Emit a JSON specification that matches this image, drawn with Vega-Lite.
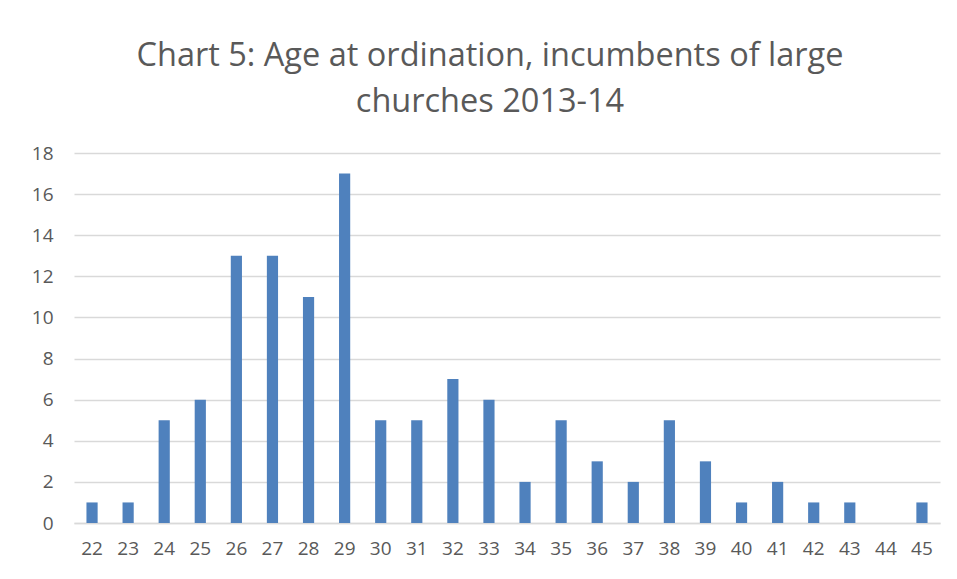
{
  "$schema": "https://vega.github.io/schema/vega-lite/v6.json",
  "width": 866,
  "height": 370,
  "autosize": {"type": "none"},
  "padding": {"left": 74, "top": 153, "right": 17, "bottom": 56},
  "background": "white",
  "title": {
    "text": ["Chart 5: Age at ordination, incumbents of large", "churches 2013-14"],
    "font": "Open Sans",
    "fontSize": 32.5,
    "fontWeight": "normal",
    "color": "#595959",
    "lineHeight": 46,
    "anchor": "middle",
    "dx": -17,
    "offset": 26
  },
  "data": {
    "values": [
      {"age": "22", "count": 1}, {"age": "23", "count": 1}, {"age": "24", "count": 5},
      {"age": "25", "count": 6}, {"age": "26", "count": 13}, {"age": "27", "count": 13},
      {"age": "28", "count": 11}, {"age": "29", "count": 17}, {"age": "30", "count": 5},
      {"age": "31", "count": 5}, {"age": "32", "count": 7}, {"age": "33", "count": 6},
      {"age": "34", "count": 2}, {"age": "35", "count": 5}, {"age": "36", "count": 3},
      {"age": "37", "count": 2}, {"age": "38", "count": 5}, {"age": "39", "count": 3},
      {"age": "40", "count": 1}, {"age": "41", "count": 2}, {"age": "42", "count": 1},
      {"age": "43", "count": 1}, {"age": "44", "count": 0}, {"age": "45", "count": 1}
    ]
  },
  "mark": {"type": "bar", "color": "#4F81BD"},
  "encoding": {
    "x": {
      "field": "age",
      "type": "ordinal",
      "sort": null,
      "scale": {"paddingInner": 0.69, "paddingOuter": 0.345},
      "axis": {
        "title": null,
        "labelAngle": 0,
        "labelFont": "Open Sans",
        "labelFontSize": 19,
        "labelColor": "#595959",
        "labelPadding": 16,
        "ticks": false,
        "domain": true,
        "domainColor": "#D9D9D9",
        "domainWidth": 1.5
      }
    },
    "y": {
      "field": "count",
      "type": "quantitative",
      "scale": {"domain": [0, 18]},
      "axis": {
        "title": null,
        "values": [0, 2, 4, 6, 8, 10, 12, 14, 16, 18],
        "labelFont": "Open Sans",
        "labelFontSize": 19,
        "labelColor": "#595959",
        "labelPadding": 21,
        "ticks": false,
        "domain": false,
        "gridColor": "#D9D9D9",
        "gridWidth": 1.5
      }
    }
  },
  "config": {"view": {"stroke": null}}
}
